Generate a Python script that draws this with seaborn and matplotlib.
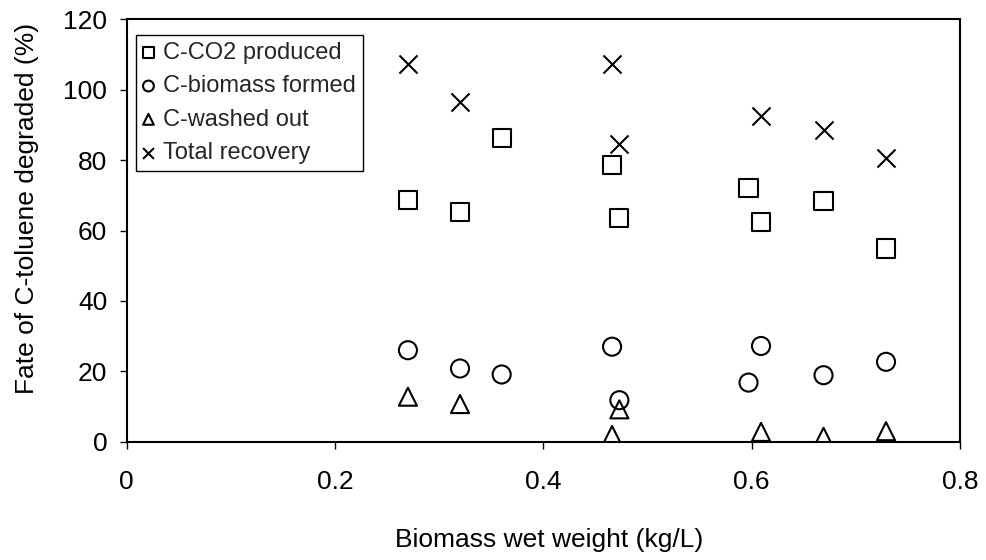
import matplotlib
matplotlib.use("Agg")
import matplotlib.pyplot as plt
import seaborn as sns
import pandas as pd

# Data
x_co2 = [0.27, 0.32, 0.36, 0.466, 0.473, 0.597, 0.609, 0.669, 0.729]
y_co2 = [68.7, 65.3, 86.2, 78.6, 63.5, 72.0, 62.5, 68.4, 54.9]

x_bio = [0.27, 0.32, 0.36, 0.466, 0.473, 0.597, 0.609, 0.669, 0.729]
y_bio = [26.0, 20.8, 19.1, 27.0, 11.8, 16.8, 27.2, 18.9, 22.7]

x_wash = [0.27, 0.32, 0.466, 0.473, 0.609, 0.669, 0.729]
y_wash = [12.8, 10.7, 1.9, 9.2, 2.8, 1.4, 3.0]

x_tot = [0.27, 0.32, 0.466, 0.473, 0.609, 0.669, 0.729]
y_tot = [107.3, 96.6, 107.3, 84.6, 92.5, 88.5, 80.7]

labels = ["C-CO2 produced", "C-biomass formed", "C-washed out", "Total recovery"]
x_ticks = [0, 0.2, 0.4, 0.6, 0.8]
x_ticklabels = ["0", "0.2", "0.4", "0.6", "0.8"]
y_ticks = [0, 20, 40, 60, 80, 100, 120]

sns.set_theme(style="white")
plt.rcParams['font.family'] = ['Liberation Sans', 'DejaVu Sans']

fig = plt.figure(figsize=(9.86, 5.6), dpi=100)
ax = fig.add_axes([0.1285, 0.2112, 0.8451, 0.7543])

ms = 13
series = [
    (x_co2, y_co2, 's', labels[0]),
    (x_bio, y_bio, 'o', labels[1]),
    (x_wash, y_wash, '^', labels[2]),
]
for xs, ys, m, lab in series:
    df = pd.DataFrame({"x": xs, "y": ys})
    sns.scatterplot(data=df, x="x", y="y", marker=m, s=ms**2, facecolor='none',
                    edgecolor='black', linewidth=1.5, label=lab, ax=ax, zorder=3)
df = pd.DataFrame({"x": x_tot, "y": y_tot})
sns.scatterplot(data=df, x="x", y="y", marker='x', s=ms**2, color='black',
                linewidth=1.5, label=labels[3], ax=ax, zorder=3)

ax.set_xlim(0, 0.8)
ax.set_ylim(0, 120)
ax.set_xticks(x_ticks)
ax.set_xticklabels(x_ticklabels)
ax.set_yticks(y_ticks)
ax.tick_params(axis='both', labelsize=19, colors='black', direction='out',
               length=5, width=1, left=True, bottom=True)
ax.tick_params(axis='x', pad=15)
ax.tick_params(axis='y', pad=9)
for sp in ax.spines.values():
    sp.set_color('black')
    sp.set_linewidth(1.5)
    sp.set_visible(True)

ax.set_xlabel("Biomass wet weight (kg/L)", fontsize=19, color='black')
ax.set_ylabel("Fate of C-toluene degraded (%)", fontsize=19, color='black')
ax.xaxis.set_label_coords(0.507, -0.2486)
ax.xaxis.label.set_va('baseline')
ax.yaxis.set_label_coords(-0.1196, 0.552)
ax.yaxis.label.set_va('center')

leg = ax.legend(loc='upper left', bbox_to_anchor=(0.0112, 0.9634), borderaxespad=0,
                fontsize=17, frameon=True, fancybox=False, framealpha=1,
                edgecolor='black', handlelength=0.45, handletextpad=0.4,
                labelspacing=0.48, borderpad=0.3, markerscale=0.6)
leg.get_frame().set_linewidth(1.0)

fig.savefig("out.png", dpi=100)
